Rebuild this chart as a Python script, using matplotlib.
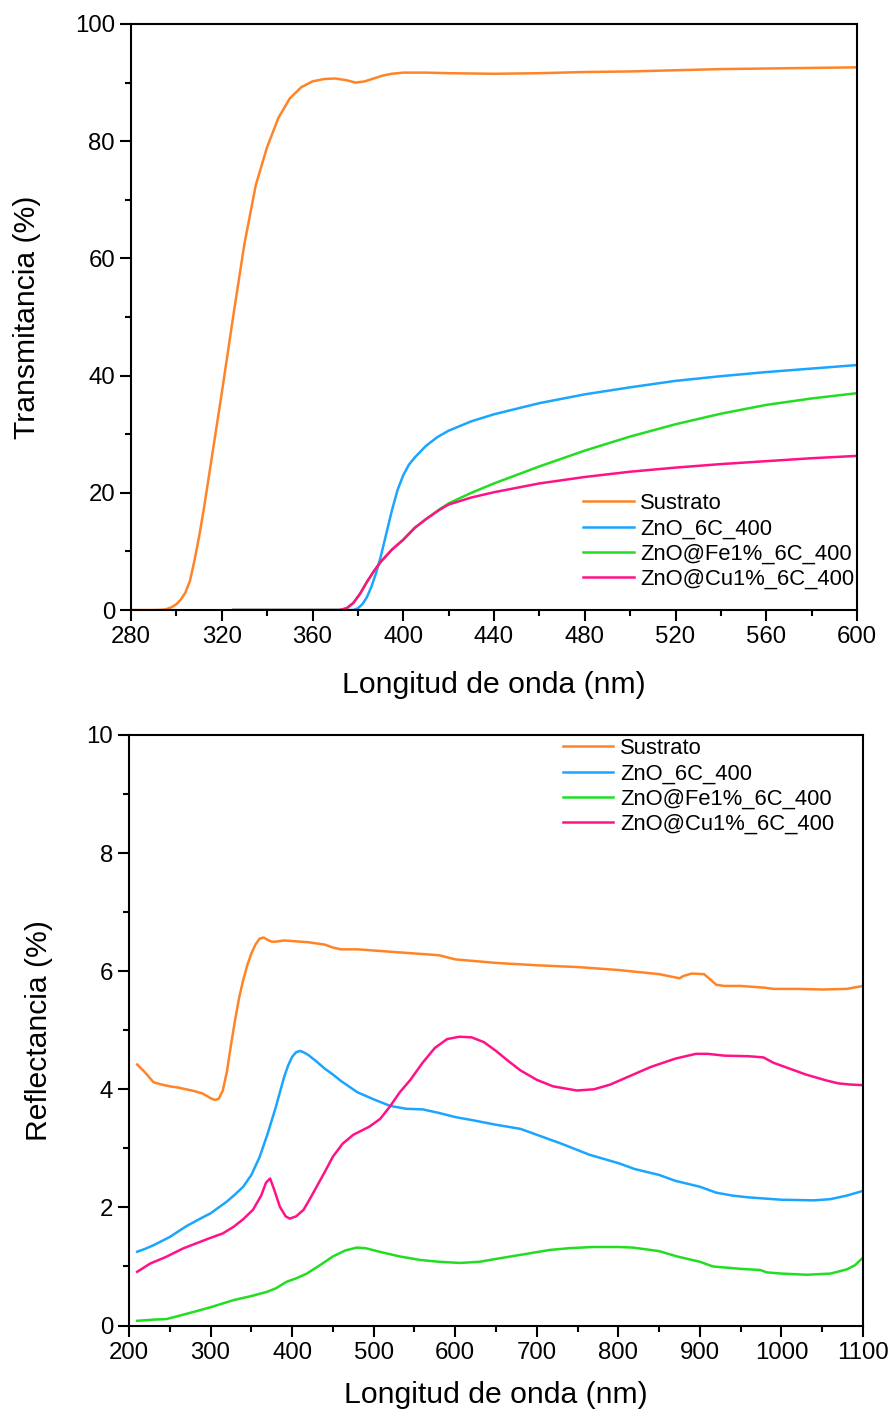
import matplotlib
matplotlib.use("Agg")
import matplotlib.pyplot as plt
from matplotlib.ticker import MultipleLocator

plt.rcParams["font.family"] = ["Liberation Sans", "DejaVu Sans"]

LABELS = ["Sustrato", "ZnO_6C_400", "ZnO@Fe1%_6C_400", "ZnO@Cu1%_6C_400"]
COLORS = ["#FF8428", "#1AA6FF", "#22DD22", "#FF1288"]

# --- transmittance (top panel) ---
t_wl_sus = [280, 290, 294, 296, 298, 300, 302, 304, 306, 308, 310, 312, 314, 317, 320, 325,
            330, 335, 340, 345, 350, 355, 360, 365, 370, 375, 379, 383, 387, 391, 395, 400,
            410, 420, 440, 460, 480, 500, 520, 540, 560, 580, 600]
t_sus = [0, 0, 0.05, 0.2, 0.5, 1.0, 1.8, 3.0, 5.0, 8.5, 12.5, 17, 22, 29.5, 37, 50,
         62.5, 72.5, 79, 84, 87.3, 89.2, 90.2, 90.6, 90.7, 90.4, 90.0, 90.2, 90.7, 91.2,
         91.5, 91.7, 91.7, 91.6, 91.5, 91.6, 91.8, 91.9, 92.1, 92.3, 92.4, 92.5, 92.6]

t_wl_zno = [325, 350, 378, 380, 382, 384, 386, 388, 390, 392.5, 395, 397.5, 400, 402.5, 405,
            410, 415, 420, 430, 440, 460, 480, 500, 520, 540, 560, 580, 600]
t_zno = [0, 0, 0, 0.3, 1, 2.2, 4, 6.3, 9, 13, 17, 20.5, 23, 24.8, 26,
         28, 29.5, 30.6, 32.2, 33.4, 35.3, 36.8, 38, 39.1, 39.9, 40.6, 41.2, 41.8]

t_wl_fe = [325, 350, 372, 375, 378, 381, 384, 387, 390, 395, 400, 405, 410, 416, 420, 430,
           440, 460, 480, 500, 520, 540, 560, 580, 600]
t_fe = [0, 0, 0, 0.3, 1.2, 2.8, 4.8, 6.6, 8.2, 10.3, 12, 14, 15.5, 17.2, 18.2, 20,
        21.6, 24.5, 27.2, 29.6, 31.7, 33.5, 35, 36.1, 37.0]

t_wl_cu = [325, 350, 372, 375, 378, 381, 384, 387, 390, 395, 400, 405, 410, 416, 420, 430,
           440, 460, 480, 500, 520, 540, 560, 580, 600]
t_cu = [0, 0, 0, 0.3, 1.2, 2.8, 4.8, 6.6, 8.2, 10.3, 12, 14, 15.5, 17.1, 18.0, 19.2,
        20.1, 21.6, 22.7, 23.6, 24.3, 24.9, 25.4, 25.9, 26.3]

# --- reflectance (bottom panel) ---
r_wl_sus = [210, 215, 220, 230, 240, 250, 260, 270, 280, 290, 300, 305, 310, 315, 320, 325,
            330, 335, 340, 345, 350, 355, 360, 365, 370, 375, 380, 390, 400, 420, 440, 450,
            460, 480, 500, 550, 580, 600, 650, 700, 750, 800, 850, 875, 880, 890, 905, 912,
            920, 930, 950, 980, 990, 1020, 1050, 1080, 1100]
r_sus = [4.42, 4.35, 4.28, 4.12, 4.08, 4.05, 4.03, 4.0, 3.97, 3.93, 3.85, 3.82, 3.84, 3.98,
         4.3, 4.75, 5.17, 5.55, 5.85, 6.1, 6.3, 6.45, 6.55, 6.57, 6.53, 6.5, 6.5, 6.52, 6.51,
         6.49, 6.45, 6.4, 6.37, 6.37, 6.35, 6.3, 6.27, 6.2, 6.14, 6.1, 6.07, 6.02, 5.95, 5.88,
         5.92, 5.96, 5.95, 5.87, 5.77, 5.75, 5.75, 5.72, 5.7, 5.7, 5.69, 5.7, 5.75]

r_wl_zno = [210, 220, 230, 250, 270, 290, 300, 310, 320, 330, 340, 350, 360, 370, 380, 390,
            395, 400, 405, 410, 415, 420, 430, 440, 450, 460, 480, 500, 520, 540, 560, 580,
            600, 620, 650, 680, 700, 730, 765, 800, 820, 850, 870, 900, 920, 940, 960, 980,
            1000, 1040, 1060, 1080, 1100]
r_zno = [1.25, 1.3, 1.36, 1.5, 1.68, 1.83, 1.9, 2.0, 2.1, 2.22, 2.35, 2.55, 2.85, 3.25, 3.7,
         4.2, 4.4, 4.55, 4.63, 4.65, 4.62, 4.58, 4.47, 4.35, 4.25, 4.14, 3.95, 3.83, 3.72,
         3.67, 3.66, 3.6, 3.53, 3.48, 3.4, 3.33, 3.23, 3.08, 2.89, 2.75, 2.65, 2.55, 2.45,
         2.35, 2.25, 2.2, 2.17, 2.15, 2.13, 2.12, 2.14, 2.2, 2.28]

r_wl_fe = [210, 230, 246, 260, 287, 300, 328, 350, 369, 380, 393, 405, 418, 435, 450, 465,
           479, 490, 510, 532, 557, 580, 606, 630, 655, 690, 716, 740, 769, 800, 818, 850,
           872, 900, 916, 950, 974, 982, 1000, 1031, 1060, 1080, 1090, 1100]
r_fe = [0.08, 0.1, 0.11, 0.16, 0.26, 0.31, 0.43, 0.5, 0.57, 0.63, 0.74, 0.8, 0.88, 1.03,
        1.17, 1.27, 1.32, 1.31, 1.24, 1.17, 1.11, 1.08, 1.06, 1.08, 1.14, 1.22, 1.28, 1.31,
        1.33, 1.33, 1.32, 1.26, 1.17, 1.08, 1.0, 0.96, 0.94, 0.9, 0.88, 0.86, 0.88, 0.95,
        1.02, 1.15]

r_wl_cu = [210, 226, 245, 267, 299, 315, 328, 340, 352, 362, 368, 373, 378, 385, 392, 397,
           405, 414, 422, 430, 440, 450, 462, 475, 485, 495, 508, 520, 532, 545, 560, 575,
           590, 605, 620, 635, 650, 665, 680, 700, 720, 749, 770, 790, 810, 840, 870, 895,
           910, 930, 960, 978, 990, 1010, 1030, 1055, 1070, 1085, 1100]
r_cu = [0.91, 1.05, 1.16, 1.31, 1.48, 1.56, 1.67, 1.8, 1.96, 2.2, 2.42, 2.49, 2.3, 2.01, 1.85,
        1.81, 1.85, 1.96, 2.15, 2.35, 2.6, 2.86, 3.08, 3.23, 3.3, 3.37, 3.5, 3.71, 3.95, 4.16,
        4.45, 4.7, 4.85, 4.89, 4.88, 4.8, 4.65, 4.48, 4.32, 4.16, 4.05, 3.98, 4.0, 4.08, 4.2,
        4.38, 4.52, 4.6, 4.6, 4.57, 4.56, 4.54, 4.45, 4.35, 4.25, 4.15, 4.1, 4.08, 4.07]


def style_axes(ax):
    for spine in ax.spines.values():
        spine.set_linewidth(1.5)
    ax.tick_params(which="both", direction="out", top=False, right=False, width=1.5,
                   labelsize=17.3, pad=3.5)
    ax.tick_params(which="major", length=8)
    ax.tick_params(which="minor", length=4.5)


fig = plt.figure(figsize=(8.93, 14.18), dpi=100)
ax1 = fig.add_axes([0.1467, 0.5698, 0.8130, 0.4133])
ax2 = fig.add_axes([0.1445, 0.0652, 0.8219, 0.4165])

top_series = [(t_wl_sus, t_sus), (t_wl_zno, t_zno), (t_wl_fe, t_fe), (t_wl_cu, t_cu)]
for (x, y), label, color in zip(top_series, LABELS, COLORS):
    ax1.plot(x, y, color=color, lw=1.8, label=label)
ax1.set_xlim(280, 600)
ax1.set_ylim(0, 100)
ax1.xaxis.set_major_locator(MultipleLocator(40))
ax1.xaxis.set_minor_locator(MultipleLocator(20))
ax1.yaxis.set_major_locator(MultipleLocator(20))
ax1.yaxis.set_minor_locator(MultipleLocator(10))
style_axes(ax1)
ax1.set_xlabel("Longitud de onda (nm)", fontsize=21.7)
ax1.set_ylabel("Transmitancia (%)", fontsize=21.7)
ax1.xaxis.set_label_coords(0.5, -0.104)
ax1.yaxis.set_label_coords(-0.124, 0.5)
ax1.legend(loc="upper left", bbox_to_anchor=(0.623, 0.2), frameon=False, fontsize=15.8,
           borderpad=0, borderaxespad=0, handlelength=2.3, handletextpad=0.3,
           labelspacing=0.2)

bottom_series = [(r_wl_sus, r_sus), (r_wl_zno, r_zno), (r_wl_fe, r_fe), (r_wl_cu, r_cu)]
for (x, y), label, color in zip(bottom_series, LABELS, COLORS):
    ax2.plot(x, y, color=color, lw=1.8, label=label)
ax2.set_xlim(200, 1100)
ax2.set_ylim(0, 10)
ax2.xaxis.set_major_locator(MultipleLocator(100))
ax2.xaxis.set_minor_locator(MultipleLocator(50))
ax2.yaxis.set_major_locator(MultipleLocator(2))
ax2.yaxis.set_minor_locator(MultipleLocator(1))
style_axes(ax2)
ax2.set_xlabel("Longitud de onda (nm)", fontsize=21.7)
ax2.set_ylabel("Reflectancia (%)", fontsize=21.7)
ax2.xaxis.set_label_coords(0.5, -0.094)
ax2.yaxis.set_label_coords(-0.103, 0.5)
ax2.legend(loc="upper left", bbox_to_anchor=(0.591, 0.995), frameon=False, fontsize=15.8,
           borderpad=0, borderaxespad=0, handlelength=2.3, handletextpad=0.3,
           labelspacing=0.2)

fig.savefig("out.png", dpi=100)
